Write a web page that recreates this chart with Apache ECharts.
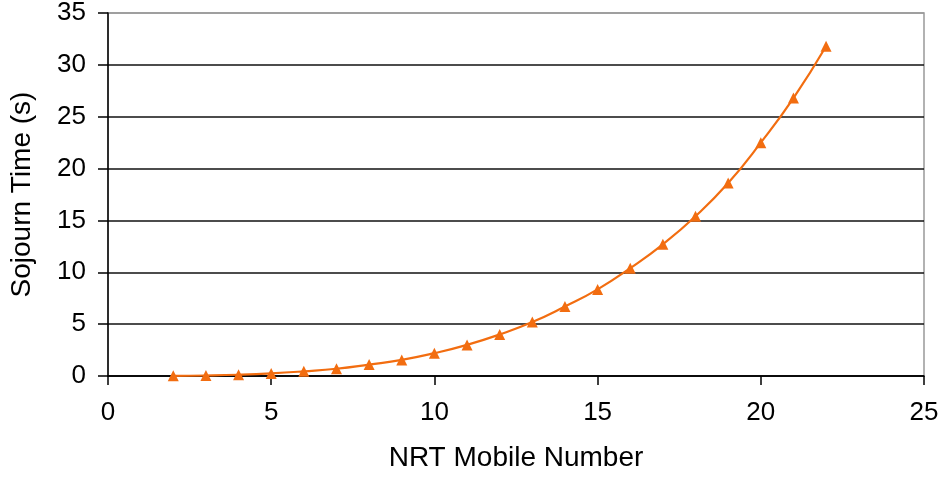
<!DOCTYPE html>
<html>
<head>
<meta charset="utf-8">
<script src="https://cdn.jsdelivr.net/npm/echarts@6/dist/echarts.min.js"></script>
<style>
html,body{margin:0;padding:0;background:#fff;}
#chart{width:943px;height:481px;}
</style>
</head>
<body>
<div id="chart"></div>
<script>
const mobileNumbers = [2, 3, 4, 5, 6, 7, 8, 9, 10, 11, 12, 13, 14, 15, 16, 17, 18, 19, 20, 21, 22];
const sojournTimes = [0.02, 0.05, 0.12, 0.25, 0.45, 0.7, 1.1, 1.55, 2.2, 3.0, 4.0, 5.2, 6.7, 8.35, 10.4, 12.7, 15.4, 18.6, 22.5, 26.8, 31.8];
const xTicks = [0, 5, 10, 15, 20, 25];
const yTicks = [0, 5, 10, 15, 20, 25, 30, 35];

const chart = echarts.init(document.getElementById('chart'), null, {renderer: 'canvas'});
const font = 'Liberation Sans, Arial, Helvetica, sans-serif';
chart.setOption({
  animation: false,
  backgroundColor: '#fff',
  grid: {left: 105, top: 12, right: 19, bottom: 105, show: true, borderColor: '#999', borderWidth: 1.5, backgroundColor: 'transparent'},
  xAxis: {
    type: 'value', min: xTicks[0], max: xTicks[xTicks.length - 1], interval: 5,
    name: 'NRT Mobile Number', nameLocation: 'middle', nameGap: 68,
    nameTextStyle: {fontFamily: font, fontSize: 28, color: '#000'},
    axisLine: {show: true, onZero: false, lineStyle: {color: '#000', width: 1.5}},
    axisTick: {show: true, inside: false, length: 9, lineStyle: {color: '#000', width: 1.5}},
    axisLabel: {margin: 24, fontFamily: font, fontSize: 26, color: '#000'},
    splitLine: {show: false}
  },
  yAxis: {
    type: 'value', min: yTicks[0], max: yTicks[yTicks.length - 1], interval: 5,
    name: 'Sojourn Time (s)', nameLocation: 'middle', nameGap: 72,
    nameTextStyle: {fontFamily: font, fontSize: 28, color: '#000'},
    axisLine: {show: true, lineStyle: {color: '#000', width: 1.5}},
    axisTick: {show: true, inside: false, length: 10, lineStyle: {color: '#000', width: 1.5}},
    axisLabel: {margin: 22, fontFamily: font, fontSize: 26, color: '#000'},
    splitLine: {show: true, lineStyle: {color: ['#000', '#111', '#111', '#111', '#111', '#111', '#111', '#999'], width: 1.5}}
  },
  series: [{
    type: 'line',
    data: mobileNumbers.map((x, i) => [x, sojournTimes[i]]),
    smooth: true,
    symbol: 'triangle',
    symbolSize: 11,
    lineStyle: {color: '#f26d10', width: 2.2},
    itemStyle: {color: '#f26d10'}
  }]
});
</script>
</body>
</html>
